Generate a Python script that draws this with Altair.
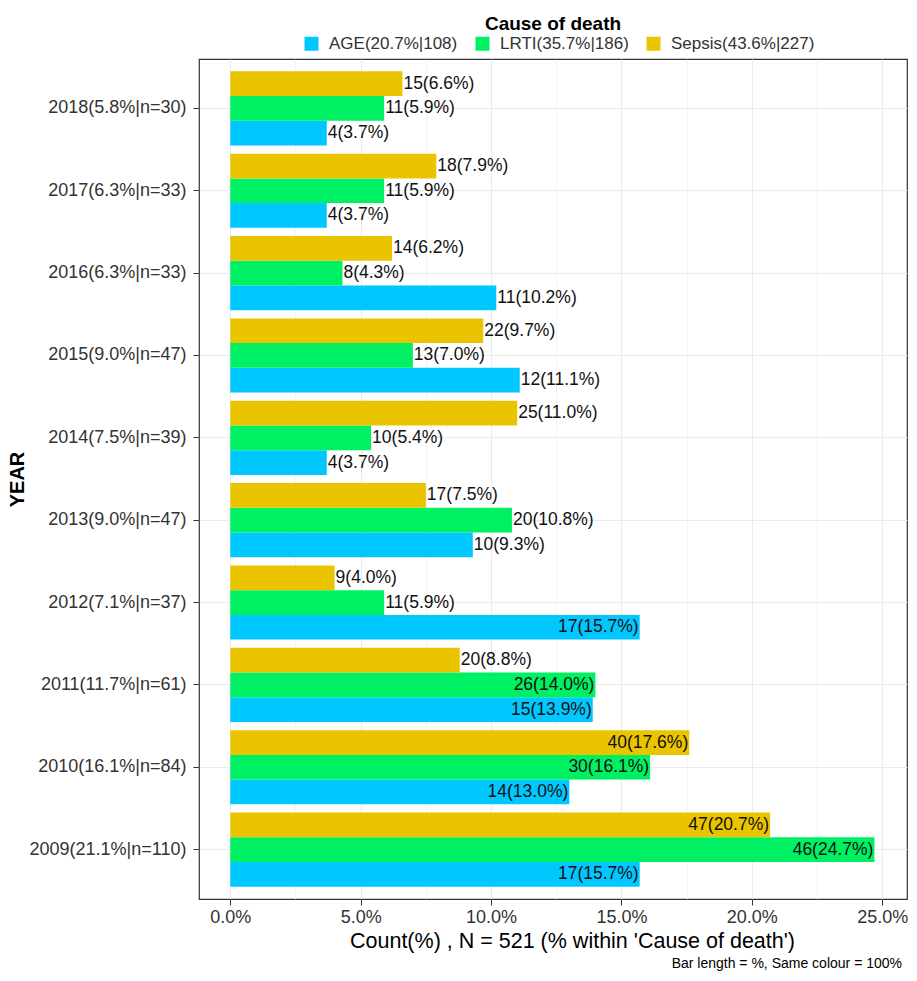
import altair as alt
import pandas as pd

years = ["2018", "2017", "2016", "2015", "2014", "2013", "2012", "2011", "2010", "2009"]
year_labels = ["2018(5.8%|n=30)", "2017(6.3%|n=33)", "2016(6.3%|n=33)", "2015(9.0%|n=47)",
               "2014(7.5%|n=39)", "2013(9.0%|n=47)", "2012(7.1%|n=37)", "2011(11.7%|n=61)",
               "2010(16.1%|n=84)", "2009(21.1%|n=110)"]
cause_labels = ["AGE(20.7%|108)", "LRTI(35.7%|186)", "Sepsis(43.6%|227)"]
colors = ["#00C8FF", "#00F064", "#EBC400"]

age_n = [4, 4, 11, 12, 4, 10, 17, 15, 14, 17]
age_pct = [3.7, 3.7, 10.2, 11.1, 3.7, 9.3, 15.7, 13.9, 13.0, 15.7]
lrti_n = [11, 11, 8, 13, 10, 20, 11, 26, 30, 46]
lrti_pct = [5.9, 5.9, 4.3, 7.0, 5.4, 10.8, 5.9, 14.0, 16.1, 24.7]
sepsis_n = [15, 18, 14, 22, 25, 17, 9, 20, 40, 47]
sepsis_pct = [6.6, 7.9, 6.2, 9.7, 11.0, 7.5, 4.0, 8.8, 17.6, 20.7]

caption = ["Bar length = %, Same colour = 100%"]

rows = []
for cause, ns, ps in zip(cause_labels, [age_n, lrti_n, sepsis_n], [age_pct, lrti_pct, sepsis_pct]):
    for yl, n, p in zip(year_labels, ns, ps):
        rows.append({"year": yl, "cause": cause, "n": n, "pct": p,
                     "label": f"{n}({p:.1f}%)", "inside": p > 12.35})
df = pd.DataFrame(rows)
cap_df = pd.DataFrame({"caption": caption})

FONT = "Liberation Sans"
minor_test = "datum.value % 5 !== 0"

y_enc = alt.Y("year:N", sort=year_labels,
              scale=alt.Scale(paddingInner=0.1, paddingOuter=0.15),
              axis=alt.Axis(title="YEAR", titleFontSize=20, titleFontWeight="bold",
                            titleColor="#000000", titlePadding=1.5,
                            labelFontSize=18, labelColor="#333333", labelPadding=7,
                            tickSize=6, tickColor="#333333", domain=False,
                            grid=True, gridColor="#EBEBEB", gridWidth=1, bandPosition=0.5,
                            labelLimit=400))
yoff = alt.YOffset("cause:N", sort=[cause_labels[2], cause_labels[1], cause_labels[0]],
                   scale=alt.Scale(paddingInner=0, paddingOuter=0))
x_enc = alt.X("pct:Q",
              scale=alt.Scale(domain=[-1.2, 25.95], nice=False, zero=False),
              axis=alt.Axis(values=[0, 2.5, 5, 7.5, 10, 12.5, 15, 17.5, 20, 22.5, 25],
                            labelExpr="datum.value % 5 === 0 ? format(datum.value, '.1f') + '%' : ''",
                            title="Count(%) , N = 521 (% within 'Cause of death')",
                            titleFontSize=21.5, titleFontWeight="normal", titleColor="#000000",
                            titlePadding=4, titleX=373,
                            labelFontSize=18, labelColor="#333333", labelPadding=3,
                            tickSize=6, tickColor="#333333",
                            tickOpacity={"condition": {"test": minor_test, "value": 0}, "value": 1},
                            domain=False, grid=True, gridColor="#EBEBEB",
                            gridWidth={"condition": {"test": minor_test, "value": 0.6}, "value": 1.1}))

bars = alt.Chart(df).mark_bar().encode(
    x=x_enc, y=y_enc, yOffset=yoff,
    color=alt.Color("cause:N", scale=alt.Scale(domain=cause_labels, range=colors),
                    legend=alt.Legend(title=None, orient="none", legendX=104, legendY=-24,
                                      direction="horizontal",
                                      labelFontSize=17, labelColor="#333333", symbolType="square",
                                      symbolSize=196, symbolStrokeWidth=0, columnPadding=16,
                                      labelOffset=9, labelLimit=400, padding=0)),
)

text_out = alt.Chart(df).transform_filter("!datum.inside").mark_text(
    align="left", baseline="middle", dx=1, fontSize=17.5, font=FONT, color="#111111"
).encode(x="pct:Q", y=alt.Y("year:N", sort=year_labels), yOffset=yoff, text="label:N")

text_in = alt.Chart(df).transform_filter("datum.inside").mark_text(
    align="right", baseline="middle", dx=-1, fontSize=17.5, font=FONT, color="#111111"
).encode(x="pct:Q", y=alt.Y("year:N", sort=year_labels), yOffset=yoff, text="label:N")

cap = alt.Chart(cap_df).mark_text(
    align="right", baseline="middle", fontSize=14, font=FONT, color="#000000"
).encode(x=alt.value(703), y=alt.value(905), text="caption:N")

chart = alt.layer(bars, text_out, text_in, cap).properties(
    width=708, height=840,
    autosize=alt.AutoSizeParams(type="none"),
    padding={"left": 191, "top": 51, "right": 2, "bottom": 73},
    title=alt.TitleParams(text="Cause of death", orient="top", anchor="middle", frame="group",
                          fontSize=19, fontWeight="bold", color="#000000", font=FONT, offset=1),
).configure(font=FONT).configure_view(stroke="#333333", strokeWidth=1.2)

chart.save("out.html", embed_options={"renderer": "svg", "actions": False})
